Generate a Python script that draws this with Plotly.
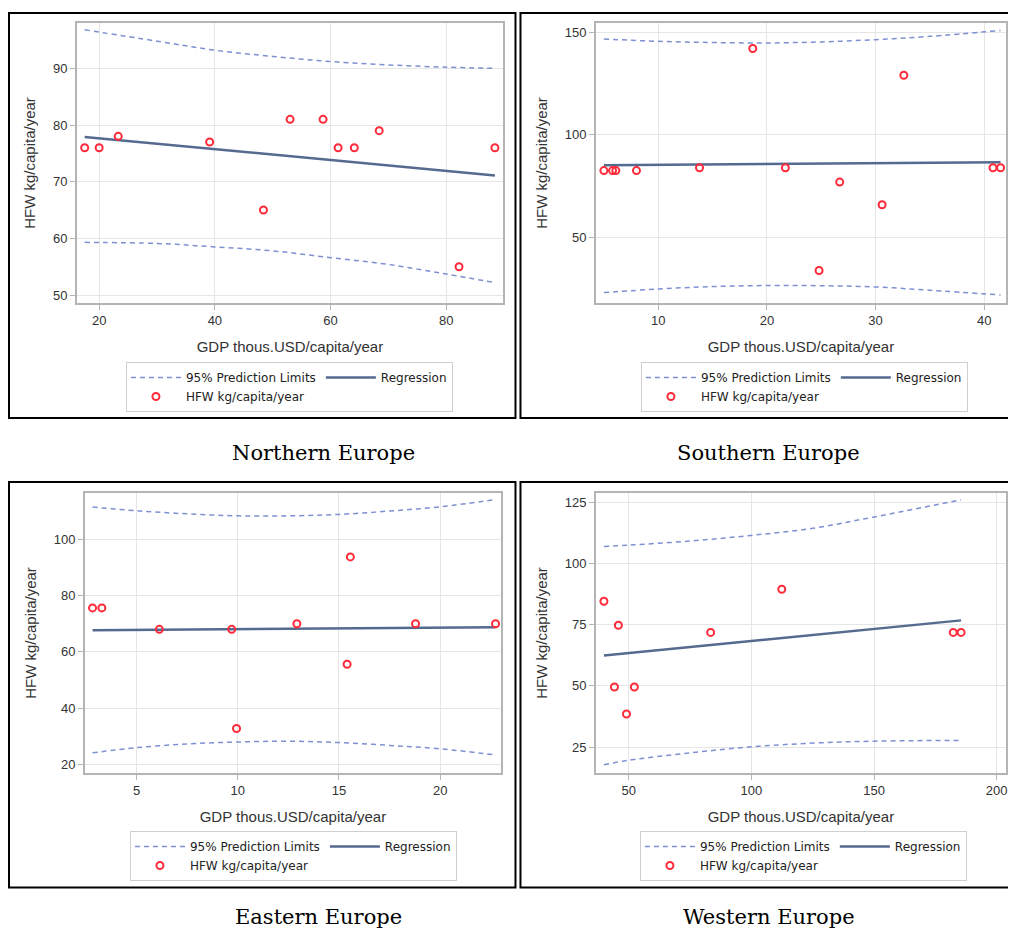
import plotly.graph_objects as go

# The page body has an 8px margin on every side; size the figure so the page fits the
# 1016x936 window exactly (no scrollbars) and map reference pixels onto it.
OFF = 8
W, H = 1016 - 2 * OFF, 936 - 2 * OFF

# ---------------- data ----------------
north_gdp = [17.5, 20.0, 23.3, 39.1, 48.4, 53.0, 58.7, 61.3, 64.1, 68.4, 82.2, 88.4]
north_hfw = [76, 76, 78, 77, 65, 81, 81, 76, 76, 79, 55, 76]
north_fit_x = [17.5, 88.4]
north_fit_y = [77.9, 71.1]
north_pl_x = [17.5, 30, 40, 50, 60, 70, 80, 88.4]
north_upper = [96.8, 94.8, 93.2, 92.1, 91.2, 90.6, 90.2, 90.0]
north_lower = [59.3, 59.1, 58.5, 57.8, 56.6, 55.4, 53.7, 52.2]

south_gdp = [5.0, 5.8, 6.1, 8.0, 13.8, 18.7, 21.7, 24.8, 26.7, 30.6, 32.6, 40.8, 41.5]
south_hfw = [82.6, 82.6, 82.6, 82.6, 84, 142, 84, 34, 77, 66, 129, 84, 84]
south_fit_x = [5.0, 41.5]
south_fit_y = [85.2, 86.7]
south_pl_x = [5, 10, 15, 20, 25, 30, 35, 41.5]
south_upper = [146.6, 145.5, 144.9, 144.7, 145.2, 146.3, 147.9, 150.8]
south_lower = [23.3, 25.0, 26.2, 26.7, 26.6, 26.0, 24.4, 22.1]

east_gdp = [2.83, 3.29, 6.13, 9.7, 9.94, 12.92, 15.4, 15.56, 18.78, 22.73]
east_hfw = [75.6, 75.6, 68, 68, 32.8, 70, 55.6, 93.7, 70, 70]
east_fit_x = [2.83, 22.73]
east_fit_y = [67.7, 68.7]
east_pl_x = [2.83, 5, 7.5, 10, 12.5, 15, 17.5, 20, 22.73]
east_upper = [111.4, 110.1, 109.0, 108.3, 108.3, 108.8, 110.0, 111.5, 114.1]
east_lower = [24.15, 26.0, 27.3, 28.0, 28.3, 27.8, 26.8, 25.6, 23.4]

west_gdp = [39.9, 44.2, 45.8, 49.1, 52.3, 83.4, 112.4, 182.3, 185.5]
west_hfw = [84.5, 49.5, 74.7, 38.5, 49.5, 71.8, 89.4, 71.8, 71.8]
west_fit_x = [39.9, 185.5]
west_fit_y = [62.4, 76.7]
west_pl_x = [39.9, 50, 75, 100, 125, 150, 185.5]
west_upper = [106.9, 107.4, 109.1, 111.4, 114.3, 118.9, 125.9]
west_lower = [17.8, 19.6, 22.6, 25.1, 26.6, 27.4, 27.7]

region_names = ["Northern Europe", "Southern Europe", "Eastern Europe", "Western Europe"]
x_title = "GDP thous.USD/capita/year"
y_title = "HFW kg/capita/year"
legend_pl = "95% Prediction Limits"
legend_fit = "Regression"
legend_pts = "HFW kg/capita/year"

# ---------------- styling / layout ----------------
PL_COLOR = "#7f90d2"
FIT_COLOR = "#546a8f"
PT_COLOR = "#ff2a3a"
FRAME = "#b4b4b4"
GRID = "#e6e6e6"
TXT = "#333333"


def px_x(p):
    return (p - OFF) / W


def px_y(p):
    return 1 - (p - OFF) / H


panels = [
    dict(data=(north_gdp, north_hfw, north_fit_x, north_fit_y, north_pl_x, north_upper, north_lower),
         plot=(77, 504, 23, 303), xr=[16.15, 89.8], yr=[48.6, 98.0],
         xt=[20, 40, 60, 80], yt=[50, 60, 70, 80, 90],
         box=(9, 516.5, 13, 418), leg=(290, 387), title=(324.5, 453)),
    dict(data=(south_gdp, south_hfw, south_fit_x, south_fit_y, south_pl_x, south_upper, south_lower),
         plot=(597, 1014, 23, 303), xr=[4.26, 42.0], yr=[18.2, 154.4],
         xt=[10, 20, 30, 40], yt=[50, 100, 150],
         box=(521.5, 1030, 13, 418), leg=(806, 387), title=(770.5, 453)),
    dict(data=(east_gdp, east_hfw, east_fit_x, east_fit_y, east_pl_x, east_upper, east_lower),
         plot=(85, 502, 493, 773), xr=[2.45, 23.0], yr=[17.0, 116.4],
         xt=[5, 10, 15, 20], yt=[20, 40, 60, 80, 100],
         box=(9, 516.5, 482, 887.5), leg=(294, 856), title=(319.5, 917)),
    dict(data=(west_gdp, west_hfw, west_fit_x, west_fit_y, west_pl_x, west_upper, west_lower),
         plot=(597, 1013, 493, 773), xr=[36.6, 203.8], yr=[14.4, 128.7],
         xt=[50, 100, 150, 200], yt=[25, 50, 75, 100, 125],
         box=(521.5, 1030, 482, 887.5), leg=(805, 856), title=(771, 917)),
]

fig = go.Figure()
layout = dict(
    width=W, height=H,
    margin=dict(l=0, r=0, t=0, b=0),
    paper_bgcolor="white", plot_bgcolor="white",
    showlegend=True,
    font=dict(family="Liberation Sans, Arial, sans-serif", color=TXT),
    shapes=[], annotations=[],
)

for i, p in enumerate(panels):
    n = i + 1
    sfx = "" if n == 1 else str(n)
    xa, ya = "x" + sfx, "y" + sfx
    leg = "legend" + sfx
    gx, gy, fx, fy, plx, up, lo = p["data"]

    fig.add_trace(go.Scatter(x=plx, y=up, mode="lines", name=legend_pl, xaxis=xa, yaxis=ya,
                             line=dict(color=PL_COLOR, width=1.5, dash="5px,4px", shape="spline"),
                             legend=leg, legendgroup="pl%d" % n, showlegend=True, hoverinfo="skip"))
    fig.add_trace(go.Scatter(x=plx, y=lo, mode="lines", name=legend_pl, xaxis=xa, yaxis=ya,
                             line=dict(color=PL_COLOR, width=1.5, dash="5px,4px", shape="spline"),
                             legend=leg, legendgroup="pl%d" % n, showlegend=False, hoverinfo="skip"))
    fig.add_trace(go.Scatter(x=fx, y=fy, mode="lines", name=legend_fit, xaxis=xa, yaxis=ya,
                             line=dict(color=FIT_COLOR, width=2.5),
                             legend=leg, legendgroup="fit%d" % n, showlegend=True))
    fig.add_trace(go.Scatter(x=gx, y=gy, mode="markers", name=legend_pts, xaxis=xa, yaxis=ya,
                             marker=dict(symbol="circle-open", size=7, color=PT_COLOR,
                                         line=dict(width=2, color=PT_COLOR)),
                             cliponaxis=False,
                             legend=leg, legendgroup="pl%d" % n, showlegend=True))

    x0, x1, y0, y1 = p["plot"]
    axis_common = dict(showgrid=True, gridcolor=GRID, gridwidth=1,
                       showline=True, linecolor=FRAME, linewidth=1.5, mirror=True,
                       ticks="outside", ticklen=5, tickcolor=FRAME, zeroline=False,
                       tickfont=dict(size=13, color=TXT, family="Liberation Sans, Arial, sans-serif"))
    layout["xaxis" + sfx] = dict(axis_common, domain=[px_x(x0), min(1.0, px_x(x1))], range=p["xr"],
                                 tickvals=p["xt"], anchor=ya,
                                 title=dict(text=x_title, font=dict(size=15, color=TXT), standoff=14))
    layout["yaxis" + sfx] = dict(axis_common, domain=[px_y(y1), px_y(y0)], range=p["yr"],
                                 tickvals=p["yt"], anchor=xa,
                                 title=dict(text=y_title, font=dict(size=15, color=TXT), standoff=14))
    lx, ly = p["leg"]
    layout[leg] = dict(orientation="h", traceorder="grouped", x=px_x(lx), y=px_y(ly),
                       xanchor="center", yanchor="middle", xref="paper", yref="paper",
                       bordercolor="#cfcfcf", borderwidth=1, bgcolor="white",
                       itemwidth=50, tracegroupgap=0,
                       font=dict(size=12, color="#222222", family="DejaVu Sans, sans-serif"))
    bx0, bx1, by0, by1 = p["box"]
    layout["shapes"].append(dict(type="rect", xref="paper", yref="paper",
                                 x0=px_x(bx0), x1=px_x(bx1), y0=px_y(by1), y1=px_y(by0),
                                 line=dict(color="black", width=2)))
    tx, ty = p["title"]
    layout["annotations"].append(dict(text=region_names[i], xref="paper", yref="paper",
                                      x=px_x(tx), y=px_y(ty), xanchor="center", yanchor="middle",
                                      showarrow=False,
                                      font=dict(family="DejaVu Serif, serif", size=21, color="black")))

fig.update_layout(**layout)
fig.write_html("out.html")
